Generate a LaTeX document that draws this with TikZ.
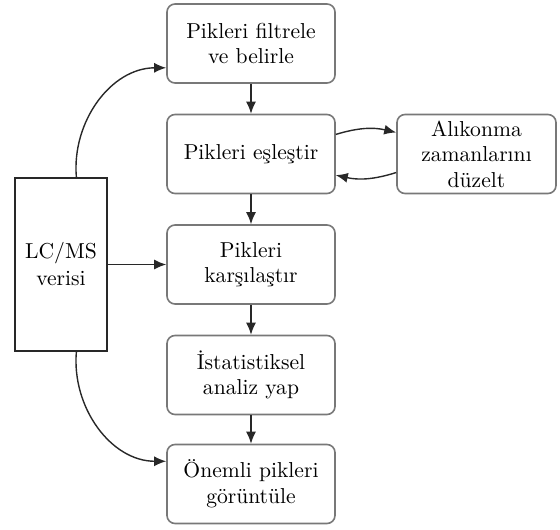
\documentclass[tikz,border=0pt]{standalone}
\usepackage{tikz}
\usetikzlibrary{arrows.meta}
\definecolor{boxGray}{RGB}{120, 120, 120}
\definecolor{lineDark}{RGB}{40, 40, 40}

\begin{document}
\begin{tikzpicture}[x=0.5pt, y=-0.5pt,
    stepbox/.style={draw=boxGray, line width=0.8pt, rounded corners=4pt, fill=white,
      minimum width=84pt, minimum height=39.5pt, align=center, inner sep=2pt,
      font=\fontsize{10.8}{12.8}\selectfont},
    databox/.style={draw=lineDark, line width=0.7pt, minimum width=46pt, minimum height=86.5pt,
      align=center, font=\fontsize{10.8}{13.5}\selectfont},
    flow/.style={-{Latex[length=6pt, width=5pt]}, line width=0.7pt, lineDark}]
        \useasboundingbox (0,0) rectangle (560,529);
        \node[stepbox] (filt) at (251,43.5) {Pikleri filtrele\\ve belirle};
        \node[stepbox] (match) at (251,154) {Pikleri eşleştir};
        \node[stepbox] (comp) at (251,264.5) {Pikleri\\karşılaştır};
        \node[stepbox] (stat) at (251,375) {İstatistiksel\\analiz yap};
        \node[stepbox] (show) at (251,484) {Önemli pikleri\\görüntüle};
        \node[stepbox, minimum width=79.5pt] (rt) at (476.5,154) {Alıkonma\\zamanlarını\\düzelt};
        \node[databox] (data) at (61,264.5) {LC/MS\\verisi};
        \draw[flow] (filt) -- (match);
        \draw[flow] (match) -- (comp);
        \draw[flow] (comp) -- (stat);
        \draw[flow] (stat) -- (show);
        \draw[flow] (data) -- (comp);
        \draw[flow] (data.80) to[out=95, in=180] (filt.196);
        \draw[flow] (data.-80) to[out=-95, in=180] (show.165);
        \draw[flow] (match.13) to[bend left=15] (rt.165);
        \draw[flow] (rt.193) to[bend left=15] (match.-14);
      \end{tikzpicture}
\end{document}
